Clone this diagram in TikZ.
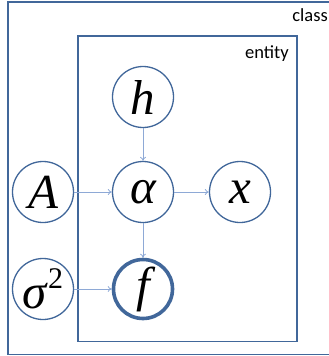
\documentclass[tikz,border=0pt]{standalone}
\usepackage{fontspec}
\setmainfont{Liberation Serif}
\newfontfamily\varfont{Liberation Serif}
\newfontfamily\labelfont{Carlito}
\usetikzlibrary{
	arrows.meta,
	positioning
}
\definecolor{frameblue}{HTML}{41679A}
\definecolor{edgeblue}{HTML}{8EA9D6}

\begin{document}
\begin{tikzpicture}[
		x=1pt, y=1pt,
		var/.style={draw=frameblue, circle, line width=1.3pt, minimum size=61pt, inner sep=0pt, execute at begin node={\varfont\fontsize{49}{49}\selectfont\itshape}},
		obs/.style={var, line width=3.6pt, minimum size=59pt},
		plate/.style={draw=frameblue, line width=1.4pt},
		platelabel/.style={anchor=base east, inner sep=0pt, font={\labelfont\fontsize{18.5}{18.5}\selectfont}},
		arrow/.style={-{To[length=4pt, width=6pt]}, draw=edgeblue, line width=0.8pt},
		on grid
		]
		\useasboundingbox (0,0) rectangle (329,-356);
		
		% =========================
		% Plates
		% =========================
		\draw[plate] (8,-2) rectangle (345,-354.5);
		\draw[plate] (78,-36) rectangle (297,-341.5);
		\node[platelabel] (classlabel) at (328,-21) {class};
		\node[platelabel] (entitylabel) at (289,-58) {entity};
		
		% =========================
		% Variables
		% =========================
		\node[var] (alpha) at (143,-192) {α};
		\node[var, above=95pt of alpha] (h) {h};
		\node[var, left=100pt of alpha] (A) {A};
		\node[var, right=97pt of alpha] (x) {x};
		\node[obs, below=97pt of alpha] (f) {f};
		\node[var, left=100pt of f] (sigma) {σ\kern1pt\raisebox{0.42em}{\fontsize{30}{30}\selectfont\upshape 2}};
		
		% =========================
		% Arrows
		% =========================
		\draw[arrow] (h) -- (alpha);
		\draw[arrow] (A) -- (alpha);
		\draw[arrow] (alpha) -- (x);
		\draw[arrow] (alpha) -- (f);
		\draw[arrow] (sigma) -- (f);
		
	\end{tikzpicture}
\end{document}
